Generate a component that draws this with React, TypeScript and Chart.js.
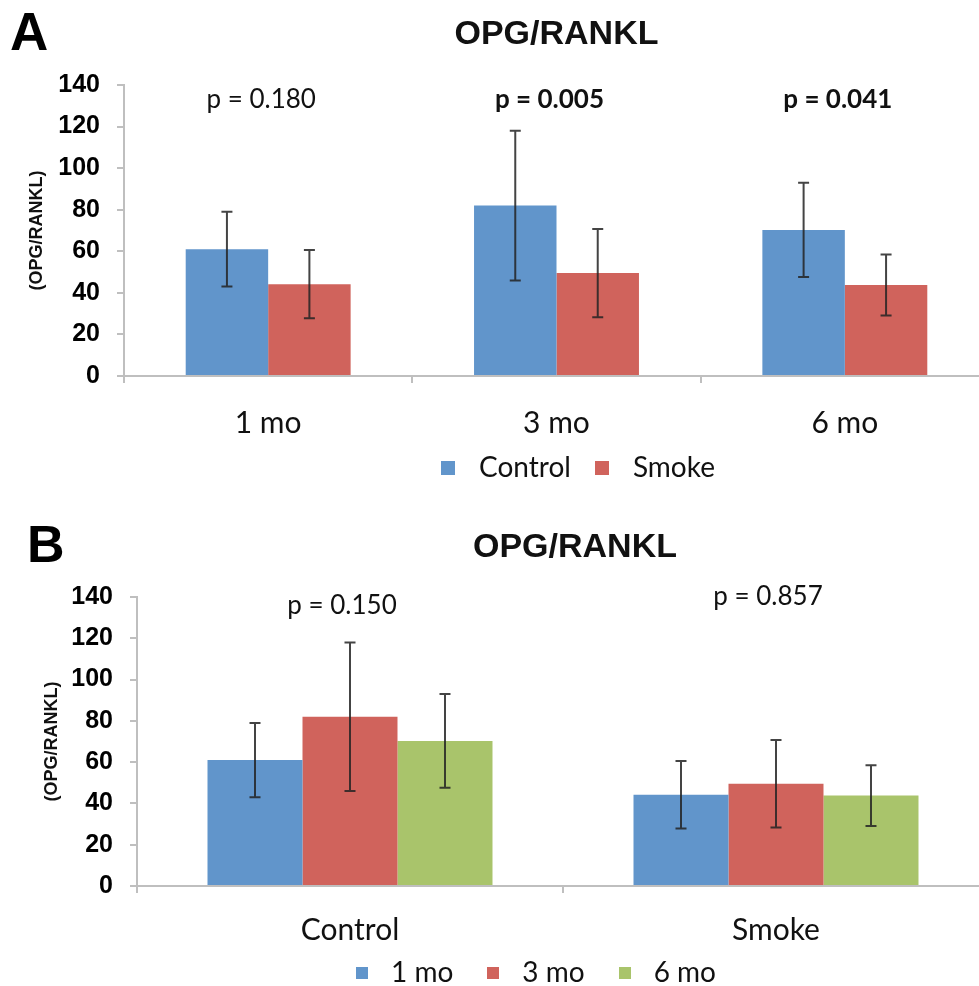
import React, { useEffect, useRef } from 'react';
import { Chart, registerables } from 'chart.js';

Chart.register(...registerables);

// ---- data ----
const timepoints = ['1 mo', '3 mo', '6 mo'];
const groups = ['Control', 'Smoke'];
const controlMean = [61, 82, 70.3];
const controlSD = [18, 36, 22.7];
const smokeMean = [44.2, 49.5, 43.8];
const smokeSD = [16.4, 21.2, 14.7];
const pLabelsByTime = ['p = 0.180', 'p = 0.005', 'p = 0.041'];
const pBoldByTime = [false, true, true];
const pHeightByTime = [133, 133, 133];
const pLabelsByGroup = ['p = 0.150', 'p = 0.857'];
const pBoldByGroup = [false, false];
const pHeightByGroup = [136, 140];
const yMin = 0;
const yMax = 140;
const yStep = 20;
const chartTitle = 'OPG/RANKL';
const yTitle = '(OPG/RANKL)';

// ---- styles ----
const BLUE = '#6195CB';
const RED = '#D0635C';
const GREEN = '#A9C46B';
const AXIS = '#BFBFBF';
const SANS = "'Liberation Sans', Arial, sans-serif";
const HUMAN = "Lato, 'Open Sans', sans-serif";

function swatch(color: string, size: number) {
  const c = document.createElement('canvas');
  c.width = size;
  c.height = size;
  const g = c.getContext('2d')!;
  g.fillStyle = color;
  g.fillRect(0, 0, size, size);
  return c;
}

const errorBarPlugin = {
  id: 'errorBars',
  afterDatasetsDraw(chart: any) {
    const { ctx } = chart;
    const ys = chart.scales.y;
    chart.data.datasets.forEach((ds: any, i: number) => {
      const meta = chart.getDatasetMeta(i);
      meta.data.forEach((bar: any, j: number) => {
        const m = ds.data[j];
        const e = ds.errors[j];
        const x = bar.x;
        const hi = ys.getPixelForValue(m + e);
        const lo = ys.getPixelForValue(m - e);
        const cap = 5.5;
        ctx.save();
        ctx.strokeStyle = 'rgba(35,35,35,0.85)';
        ctx.lineWidth = 2;
        ctx.beginPath();
        ctx.moveTo(x, hi);
        ctx.lineTo(x, lo);
        ctx.moveTo(x - cap, hi);
        ctx.lineTo(x + cap, hi);
        ctx.moveTo(x - cap, lo);
        ctx.lineTo(x + cap, lo);
        ctx.stroke();
        ctx.restore();
      });
    });
  },
};

function pValuePlugin(labels: string[], bold: boolean[], heights: number[], dx: number) {
  return {
    id: 'pValues',
    afterDraw(chart: any) {
      const { ctx } = chart;
      const xs = chart.scales.x;
      const ys = chart.scales.y;
      labels.forEach((t, j) => {
        ctx.save();
        ctx.font = `${bold[j] ? 'bold ' : ''}26px ${HUMAN}`;
        ctx.fillStyle = '#111';
        ctx.textAlign = 'center';
        ctx.textBaseline = 'middle';
        ctx.fillText(t, xs.getPixelForValue(j) + dx, ys.getPixelForValue(heights[j]));
        ctx.restore();
      });
    },
  };
}

function shiftPlugin(legendDx: number, legendDy: number, titleDx: number) {
  return {
    id: 'shiftBoxes',
    afterLayout(chart: any) {
      if (chart.legend) {
        chart.legend.left += legendDx;
        chart.legend.right += legendDx;
        chart.legend.top += legendDy;
        chart.legend.bottom += legendDy;
      }
      if (chart.titleBlock) {
        chart.titleBlock.left += titleDx;
        chart.titleBlock.right += titleDx;
      }
    },
  };
}

function makeConfig(opts: {
  labels: string[];
  datasets: any[];
  yWidth: number;
  xHeight: number;
  xPad: number;
  titlePad: { top: number; bottom: number };
  yTitlePad: number;
  legendPad: number;
  swatchSize: number;
  swatchArea: number;
  catPct: number;
  plugins: any[];
}) {
  return {
    type: 'bar' as const,
    data: { labels: opts.labels, datasets: opts.datasets },
    plugins: [errorBarPlugin, ...opts.plugins],
    options: {
      responsive: false,
      animation: false as const,
      devicePixelRatio: 1,
      layout: { padding: { left: 0, right: 6, top: 0, bottom: 3 } },
      datasets: { bar: { categoryPercentage: opts.catPct, barPercentage: 1 } },
      plugins: {
        tooltip: { enabled: false },
        title: {
          display: true,
          text: chartTitle,
          fullSize: false,
          color: '#111',
          font: { family: SANS, size: 34, weight: 'bold' as const },
          padding: opts.titlePad,
        },
        legend: {
          display: true,
          position: 'bottom' as const,
          fullSize: false,
          labels: {
            color: '#111',
            font: { family: HUMAN, size: 28 },
            usePointStyle: true,
            pointStyleWidth: opts.swatchArea,
            padding: opts.legendPad,
            generateLabels: (chart: any) =>
              chart.data.datasets.map((ds: any, i: number) => ({
                text: ds.label,
                fillStyle: ds.backgroundColor,
                strokeStyle: ds.backgroundColor,
                lineWidth: 0,
                hidden: false,
                datasetIndex: i,
                fontColor: '#111',
                pointStyle: swatch(ds.backgroundColor, opts.swatchSize),
              })),
          },
        },
      },
      scales: {
        x: {
          afterFit: (s: any) => {
            s.height = opts.xHeight;
          },
          grid: {
            display: true,
            drawOnChartArea: false,
            drawTicks: true,
            tickLength: 7,
            color: AXIS,
            lineWidth: 2,
            offset: true,
          },
          border: { display: true, color: AXIS, width: 2 },
          ticks: {
            color: '#111',
            padding: opts.xPad,
            font: { family: HUMAN, size: 30 },
          },
        },
        y: {
          min: yMin,
          max: yMax,
          afterFit: (s: any) => {
            s.width = opts.yWidth;
          },
          grid: {
            display: true,
            drawOnChartArea: false,
            drawTicks: true,
            tickLength: 7,
            color: AXIS,
            lineWidth: 2,
          },
          border: { display: true, color: AXIS, width: 2 },
          ticks: {
            stepSize: yStep,
            color: '#000',
            padding: 17,
            font: { family: SANS, size: 25, weight: 'bold' as const },
          },
          title: {
            display: true,
            text: yTitle,
            color: '#111',
            font: { family: SANS, size: 18, weight: 'bold' as const },
            padding: { top: opts.yTitlePad, bottom: 0 },
          },
        },
      },
    },
  };
}

export default function App() {
  const refA = useRef<HTMLCanvasElement>(null);
  const refB = useRef<HTMLCanvasElement>(null);

  useEffect(() => {
    const cfgA = makeConfig({
      labels: timepoints,
      datasets: [
        { label: groups[0], data: controlMean, errors: controlSD, backgroundColor: BLUE },
        { label: groups[1], data: smokeMean, errors: smokeSD, backgroundColor: RED },
      ],
      yWidth: 124,
      xHeight: 64,
      xPad: 22,
      titlePad: { top: 14.6, bottom: 29.6 },
      yTitlePad: 26,
      legendPad: 14,
      swatchSize: 14,
      swatchArea: 34,
      catPct: 0.572,
      plugins: [pValuePlugin(pLabelsByTime, pBoldByTime, pHeightByTime, -7), shiftPlugin(16.5, 0, 0)],
    });
    const colorsB = [BLUE, RED, GREEN];
    const cfgB = makeConfig({
      labels: groups,
      datasets: timepoints.map((t, k) => ({
        label: t,
        data: [controlMean[k], smokeMean[k]],
        errors: [controlSD[k], smokeSD[k]],
        backgroundColor: colorsB[k],
      })),
      yWidth: 137,
      xHeight: 62,
      xPad: 19,
      titlePad: { top: 32.6, bottom: 28.6 },
      yTitlePad: 41,
      legendPad: 25,
      swatchSize: 12,
      swatchArea: 30,
      catPct: 0.669,
      plugins: [pValuePlugin(pLabelsByGroup, pBoldByGroup, pHeightByGroup, -8), shiftPlugin(-31.5, -14, 12)],
    });
    const a = new Chart(refA.current!, cfgA as any);
    const b = new Chart(refB.current!, cfgB as any);
    return () => {
      a.destroy();
      b.destroy();
    };
  }, []);

  const panelLabel: React.CSSProperties = {
    position: 'absolute',
    fontFamily: SANS,
    fontWeight: 'bold',
    lineHeight: 1,
    color: '#000',
  };

  return (
    <div
      style={{
        position: 'fixed',
        left: 0,
        top: 0,
        width: 979,
        height: 986,
        overflow: 'hidden',
        background: '#fff',
      }}
    >
      <canvas
        ref={refA}
        width={995}
        height={495}
        style={{ position: 'absolute', left: 0, top: 0, width: 995, height: 495 }}
      />
      <canvas
        ref={refB}
        width={995}
        height={519}
        style={{ position: 'absolute', left: 0, top: 495, width: 995, height: 519 }}
      />
      <div style={{ ...panelLabel, left: 10, top: 5, fontSize: 53 }}>A</div>
      <div style={{ ...panelLabel, left: 27, top: 518, fontSize: 52 }}>B</div>
    </div>
  );
}
